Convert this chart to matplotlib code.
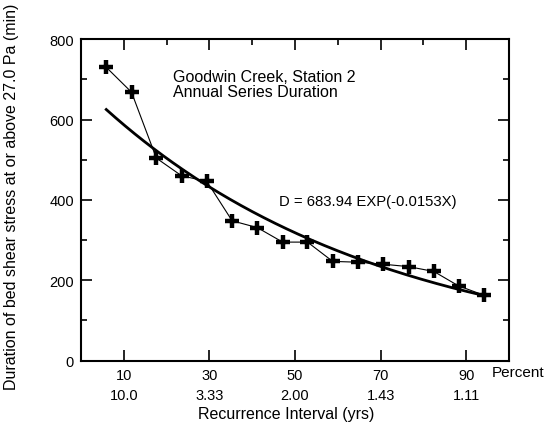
import numpy as np
import matplotlib.pyplot as plt

plt.rcParams['font.family'] = ['Liberation Sans', 'DejaVu Sans']

# percent exceedance (plotting positions) and duration (min)
pct = [5.9, 11.8, 17.6, 23.5, 29.4, 35.3, 41.2, 47.1, 52.9, 58.8,
       64.7, 70.6, 76.5, 82.4, 88.2, 94.1]
dur = [730, 668, 504, 460, 446, 348, 331, 295, 295, 247,
       245, 240, 234, 222, 186, 163]

# fitted curve D = A exp(B X), as printed on the chart
fit_a = 683.94
fit_b = -0.0153

tick_pct = [10, 30, 50, 70, 90]
tick_ri = ['10.0', '3.33', '2.00', '1.43', '1.11']

fig = plt.figure(figsize=(5.51, 4.27), dpi=100)
ax = fig.add_axes([0.147, 0.153, 0.777, 0.753])

xs = np.linspace(pct[0], pct[-1], 200)
ax.plot(xs, fit_a * np.exp(fit_b * xs), color='black', lw=2)
ax.plot(pct, dur, color='black', lw=0.8, marker='+', ms=10.5, mew=3.2)

ax.set_xlim(0, 100)
ax.set_ylim(0, 800)
ax.set_xticks(tick_pct)
ax.set_xticklabels([f"{p}\n{r}" for p, r in zip(tick_pct, tick_ri)], linespacing=1.6)
ax.set_xticks([20, 40, 60, 80], minor=True)
ax.set_yticks([0, 200, 400, 600, 800])
ax.set_yticks([100, 300, 500, 700], minor=True)

ax.tick_params(which='both', direction='in', top=True, right=True,
               width=1.2, labelsize=10.5, pad=5)
ax.tick_params(which='major', length=8)
ax.tick_params(which='minor', length=4, bottom=False)
for s in ax.spines.values():
    s.set_linewidth(1.5)

ax.set_xlabel("Recurrence Interval (yrs)", fontsize=11.5)
ax.xaxis.set_label_coords(0.479, -0.14)
ax.set_ylabel("Duration of bed shear stress at or above 27.0 Pa (min)",
              fontsize=11.5)
ax.yaxis.set_label_coords(-0.145, 0.512)

ax.text(0.96, -0.035, "Percent", transform=ax.transAxes, fontsize=11,
        ha='left', va='center')
ax.text(0.215, 0.86, "Goodwin Creek, Station 2\nAnnual Series Duration",
        transform=ax.transAxes, fontsize=11.5, va='center', linespacing=0.95)
ax.text(0.463, 0.497, "D = 683.94 EXP(-0.0153X)", transform=ax.transAxes,
        fontsize=10.7, va='center')

fig.savefig("out.png", dpi=100)
